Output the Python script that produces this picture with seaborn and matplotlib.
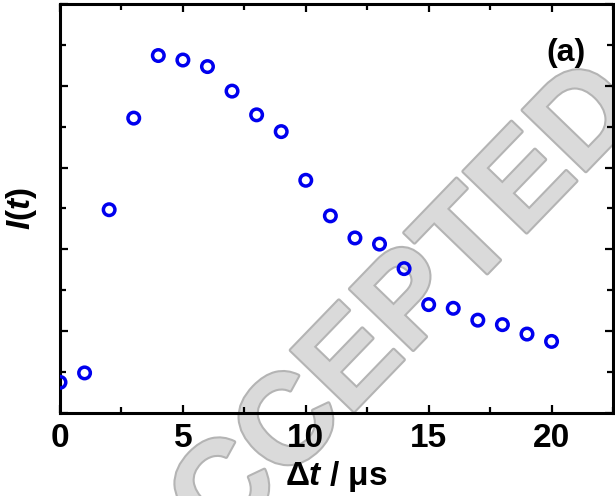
import numpy as np
import matplotlib
matplotlib.use("Agg")
import matplotlib.pyplot as plt
import matplotlib.patheffects as pe
from matplotlib.ticker import MultipleLocator, NullFormatter
import seaborn as sns

# time delay (us) and normalised signal I(t)
dt = [0, 1, 2, 3, 4, 5, 6, 7, 8, 9, 10, 11, 12, 13, 14, 15, 16, 17, 18, 19, 20]
intensity = [0.075, 0.098, 0.497, 0.721, 0.874, 0.863, 0.847, 0.787, 0.729, 0.688,
             0.569, 0.482, 0.428, 0.413, 0.353, 0.265, 0.256, 0.227, 0.216, 0.193, 0.175]
x_ticks = [0, 5, 10, 15, 20]

sns.set_style("ticks")
plt.rcParams["font.family"] = ["Liberation Sans", "DejaVu Sans"]
plt.rcParams["font.weight"] = "bold"
plt.rcParams["mathtext.fontset"] = "custom"
plt.rcParams["mathtext.it"] = "Liberation Sans:italic:bold"
plt.rcParams["mathtext.rm"] = "Liberation Sans:bold"
for key in ["text.color", "axes.labelcolor", "xtick.color", "ytick.color", "axes.edgecolor"]:
    plt.rcParams[key] = "black"

fig = plt.figure(figsize=(6.15, 4.96), dpi=100, facecolor="white")
ax = fig.add_axes([60 / 615, 83 / 496, 553 / 615, 409 / 496])
ax.patch.set_alpha(0)

sns.scatterplot(x=dt, y=intensity, ax=ax, marker="o", s=69,
                facecolors="none", edgecolor="#0000EE", linewidth=2.5, zorder=3)

ax.set_xlim(0, 22.5)
ax.set_ylim(0, 1)
ax.set_xticks(x_ticks)
ax.xaxis.set_minor_locator(MultipleLocator(2.5))
ax.yaxis.set_major_locator(MultipleLocator(0.2))
ax.yaxis.set_minor_locator(MultipleLocator(0.1))
ax.yaxis.set_major_formatter(NullFormatter())

for s in ax.spines.values():
    s.set_linewidth(2.2)
    s.set_color("black")
ax.tick_params(which="both", direction="in", top=True, right=True, color="black")
ax.tick_params(which="major", length=6, width=1.6, labelsize=24, pad=7)
ax.tick_params(which="minor", length=4, width=1.6)

ax.set_xlabel(r"Δ$\mathit{t}$ / μs", fontsize=24, fontweight="bold", labelpad=4)
ax.set_ylabel(r"$\mathit{I}$($\mathit{t}$)", fontsize=24, fontweight="bold", labelpad=8)
ax.text(0.915, 0.88, "(a)", transform=ax.transAxes, fontsize=23,
        fontweight="bold", ha="center", va="center")

# journal watermark, drawn behind the axes content
fig.text(376 / 615, 1 - 341 / 496, "ACCEPTED", rotation=46, fontsize=92,
         fontweight="bold", color="#dadada", ha="center", va="center", zorder=-1,
         path_effects=[pe.Stroke(linewidth=3, foreground="#b4b4b4"),
                       pe.Normal()])

fig.savefig("out.png", dpi=100, facecolor="white")
